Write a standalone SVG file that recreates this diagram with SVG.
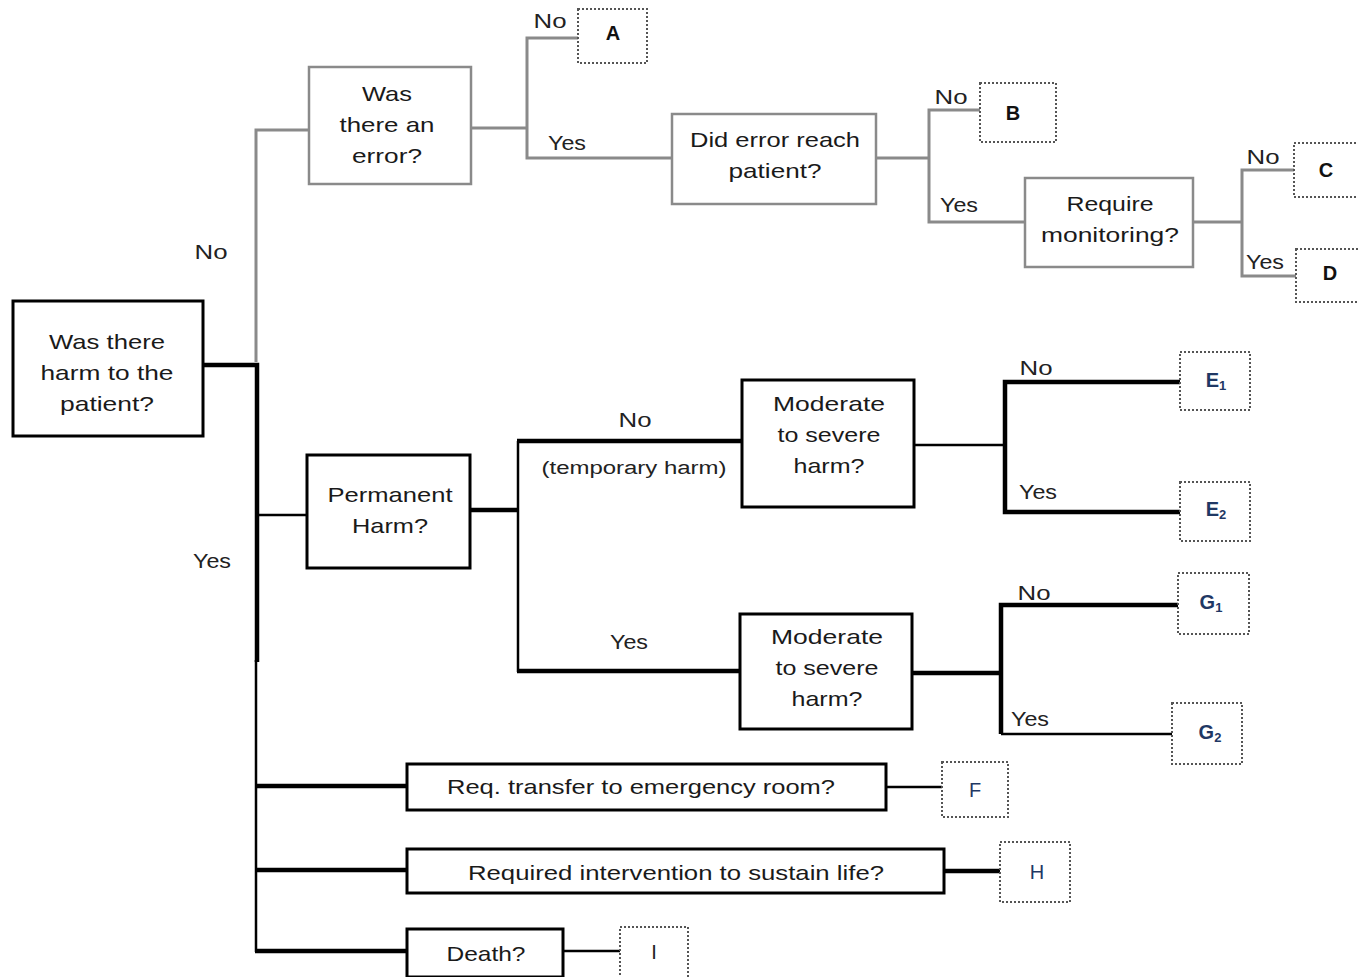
<svg xmlns="http://www.w3.org/2000/svg" width="1358" height="977" viewBox="0 0 1358 977">
<style>
text{font-family:"Liberation Sans","DejaVu Sans",sans-serif;font-size:21px;fill:#1a1a1a;text-anchor:middle}
.lbl{font-size:20px;fill:#222}
.gbox{fill:#fff;stroke:#8a8a8a;stroke-width:2.5}
.bbox{fill:#fff;stroke:#000;stroke-width:3}
.dbox{fill:#fff;stroke:#555;stroke-width:2;stroke-dasharray:2 2}
.g{stroke:#8a8a8a;stroke-width:3;fill:none}
.k{stroke:#000;stroke-width:4.5;fill:none}
.kt{stroke:#000;stroke-width:2.5;fill:none}
.leaf{font-weight:bold;font-size:20px;fill:#111}
.nv{font-weight:bold;font-size:20px;fill:#1f3864}
.nvp{font-size:20px;fill:#1f3864}
</style>
<g id="connectors">
<polyline class="g" points="256,362 256,130 309,130"/>
<line class="g" x1="471" y1="128" x2="527" y2="128"/>
<polyline class="g" points="578,38 527,38 527,158 672,158"/>
<line class="g" x1="876" y1="158" x2="929" y2="158"/>
<polyline class="g" points="980,110 929,110 929,222 1025,222"/>
<line class="g" x1="1193" y1="222" x2="1242" y2="222"/>
<polyline class="g" points="1294,170 1242,170 1242,276 1296,276"/>
<polyline class="k" points="203,365 257,365 257,662"/>
<line class="kt" x1="256" y1="660" x2="256" y2="952"/>
<line class="kt" x1="257" y1="515" x2="307" y2="515"/>
<line class="k" x1="470" y1="510" x2="518" y2="510"/>
<line class="kt" x1="518" y1="441" x2="518" y2="672"/>
<line class="k" x1="517" y1="441" x2="742" y2="441"/>
<line class="k" x1="517" y1="671" x2="740" y2="671"/>
<line class="kt" x1="914" y1="445" x2="1005" y2="445"/>
<polyline class="k" points="1181,382 1005,382 1005,512 1181,512"/>
<line class="k" x1="912" y1="673" x2="1001" y2="673"/>
<polyline class="k" points="1178,605 1001,605 1001,734"/>
<line class="kt" x1="1001" y1="734" x2="1172" y2="734"/>
<line class="k" x1="255" y1="786" x2="407" y2="786"/>
<line class="kt" x1="886" y1="787" x2="942" y2="787"/>
<line class="k" x1="255" y1="870" x2="407" y2="870"/>
<line class="k" x1="944" y1="871" x2="1000" y2="871"/>
<line class="k" x1="255" y1="951" x2="407" y2="951"/>
<line class="kt" x1="563" y1="951" x2="620" y2="951"/>
</g>
<g id="labels">
<text class="lbl" x="211" y="259" textLength="33" lengthAdjust="spacingAndGlyphs">No</text>
<text class="lbl" x="212" y="568" textLength="38" lengthAdjust="spacingAndGlyphs">Yes</text>
<text class="lbl" x="550" y="28" textLength="33" lengthAdjust="spacingAndGlyphs">No</text>
<text class="lbl" x="567" y="150" textLength="38" lengthAdjust="spacingAndGlyphs">Yes</text>
<text class="lbl" x="951" y="104" textLength="33" lengthAdjust="spacingAndGlyphs">No</text>
<text class="lbl" x="959" y="212" textLength="38" lengthAdjust="spacingAndGlyphs">Yes</text>
<text class="lbl" x="1263" y="164" textLength="33" lengthAdjust="spacingAndGlyphs">No</text>
<text class="lbl" x="1265" y="269" textLength="38" lengthAdjust="spacingAndGlyphs">Yes</text>
<text class="lbl" x="635" y="427" textLength="33" lengthAdjust="spacingAndGlyphs">No</text>
<text class="lbl" x="634" y="474" style="font-size:18px" textLength="185" lengthAdjust="spacingAndGlyphs">(temporary harm)</text>
<text class="lbl" x="629" y="649" textLength="38" lengthAdjust="spacingAndGlyphs">Yes</text>
<text class="lbl" x="1036" y="375" textLength="33" lengthAdjust="spacingAndGlyphs">No</text>
<text class="lbl" x="1038" y="499" textLength="38" lengthAdjust="spacingAndGlyphs">Yes</text>
<text class="lbl" x="1034" y="600" textLength="33" lengthAdjust="spacingAndGlyphs">No</text>
<text class="lbl" x="1030" y="726" textLength="38" lengthAdjust="spacingAndGlyphs">Yes</text>
</g>
<g id="n-harm"><rect class="bbox" x="13" y="301" width="190" height="135"/>
<text x="107" y="349" textLength="116" lengthAdjust="spacingAndGlyphs">Was there</text><text x="107" y="380" textLength="133" lengthAdjust="spacingAndGlyphs">harm to the</text><text x="107" y="411" textLength="94" lengthAdjust="spacingAndGlyphs">patient?</text></g>
<g id="n-error"><rect class="gbox" x="309" y="67" width="162" height="117"/>
<text x="387" y="101" textLength="50" lengthAdjust="spacingAndGlyphs">Was</text><text x="387" y="132" textLength="95" lengthAdjust="spacingAndGlyphs">there an</text><text x="387" y="163" textLength="70" lengthAdjust="spacingAndGlyphs">error?</text></g>
<g id="n-A"><rect class="dbox" x="578" y="9" width="69" height="54"/><text class="leaf" x="613" y="40">A</text></g>
<g id="n-reach"><rect class="gbox" x="672" y="114" width="204" height="90"/>
<text x="775" y="147" textLength="170" lengthAdjust="spacingAndGlyphs">Did error reach</text><text x="775" y="178" textLength="93" lengthAdjust="spacingAndGlyphs">patient?</text></g>
<g id="n-B"><rect class="dbox" x="980" y="83" width="76" height="59"/><text class="leaf" x="1013" y="120">B</text></g>
<g id="n-monitor"><rect class="gbox" x="1025" y="178" width="168" height="89"/>
<text x="1110" y="211" textLength="87" lengthAdjust="spacingAndGlyphs">Require</text><text x="1110" y="242" textLength="138" lengthAdjust="spacingAndGlyphs">monitoring?</text></g>
<g id="n-C"><rect class="dbox" x="1294" y="143" width="70" height="54"/><text class="leaf" x="1326" y="177">C</text></g>
<g id="n-D"><rect class="dbox" x="1296" y="249" width="68" height="53"/><text class="leaf" x="1330" y="280">D</text></g>
<g id="n-perm"><rect class="bbox" x="307" y="455" width="163" height="113"/>
<text x="390" y="502" textLength="125" lengthAdjust="spacingAndGlyphs">Permanent</text><text x="390" y="533" textLength="76" lengthAdjust="spacingAndGlyphs">Harm?</text></g>
<g id="n-mod1"><rect class="bbox" x="742" y="380" width="172" height="127"/>
<text x="829" y="411" textLength="112" lengthAdjust="spacingAndGlyphs">Moderate</text><text x="829" y="442" textLength="103" lengthAdjust="spacingAndGlyphs">to severe</text><text x="829" y="473" textLength="71" lengthAdjust="spacingAndGlyphs">harm?</text></g>
<g id="n-E1"><rect class="dbox" x="1180" y="352" width="70" height="58"/><text class="nv" x="1216" y="387">E<tspan font-size="13" dy="3">1</tspan></text></g>
<g id="n-E2"><rect class="dbox" x="1180" y="482" width="70" height="59"/><text class="nv" x="1216" y="516">E<tspan font-size="13" dy="3">2</tspan></text></g>
<g id="n-mod2"><rect class="bbox" x="740" y="614" width="172" height="115"/>
<text x="827" y="644" textLength="112" lengthAdjust="spacingAndGlyphs">Moderate</text><text x="827" y="675" textLength="103" lengthAdjust="spacingAndGlyphs">to severe</text><text x="827" y="706" textLength="71" lengthAdjust="spacingAndGlyphs">harm?</text></g>
<g id="n-G1"><rect class="dbox" x="1178" y="573" width="71" height="61"/><text class="nv" x="1211" y="609">G<tspan font-size="13" dy="3">1</tspan></text></g>
<g id="n-G2"><rect class="dbox" x="1172" y="703" width="70" height="61"/><text class="nv" x="1210" y="739">G<tspan font-size="13" dy="3">2</tspan></text></g>
<g id="n-transfer"><rect class="bbox" x="407" y="764" width="479" height="46"/>
<text x="641" y="794" textLength="388" lengthAdjust="spacingAndGlyphs">Req. transfer to emergency room?</text></g>
<g id="n-F"><rect class="dbox" x="942" y="762" width="66" height="55"/><text class="nvp" x="975" y="797">F</text></g>
<g id="n-interv"><rect class="bbox" x="407" y="849" width="537" height="44"/>
<text x="676" y="880" textLength="416" lengthAdjust="spacingAndGlyphs">Required intervention to sustain life?</text></g>
<g id="n-H"><rect class="dbox" x="1000" y="842" width="70" height="60"/><text class="nvp" x="1037" y="879">H</text></g>
<g id="n-death"><rect class="bbox" x="407" y="929" width="156" height="48"/>
<text x="486" y="961" textLength="79" lengthAdjust="spacingAndGlyphs">Death?</text></g>
<g id="n-I"><rect class="dbox" x="620" y="927" width="68" height="52"/><text class="nvp" x="654" y="959" style="fill:#222">I</text></g>
</svg>
